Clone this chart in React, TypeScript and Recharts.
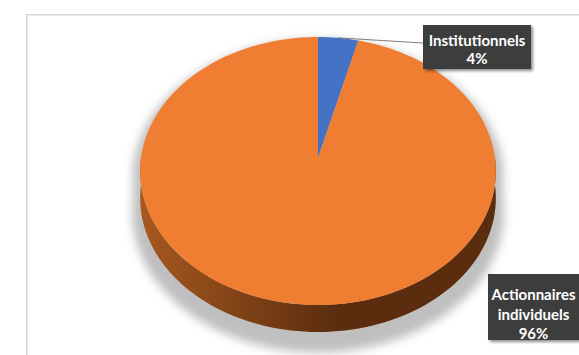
import { PieChart, Pie, Cell } from "recharts";

const categories = ["Institutionnels", "Actionnaires individuels"];
const labelLines = [["Institutionnels"], ["Actionnaires", "individuels"]];
const shares = [4, 96];
const sliceColors = ["#4472C4", "#EF7E32"];

const data = categories.map((name, i) => ({ name, value: shares[i] }));

const W = 579;
const H = 355;
const CX = 318;
const CY = 158;
const R = 177;
const SQUASH = 0.75; // vertical flattening of the tilted disc
const TILT = 0.097; // perspective: far side smaller than near side
const DEPTH = 27;

const wallStops = [
  ["#3a5da0", "#213a66"],
  ["#a6581f", "#5b2d0e"],
];
const labelBoxes = [
  { x: 423, y: 25, w: 108, h: 44, lineY: [15, 33] },
  { x: 488, y: 274, w: 91, h: 66, lineY: [20, 39.5, 59] },
];

function project(cx: number, cy: number, r: number, deg: number, drop = 0) {
  const t = (deg * Math.PI) / 180;
  const u = Math.cos(t);
  const v = Math.sin(t);
  const w = 1 + TILT * v;
  return [cx + (r * u) / w, cy - (r * SQUASH * v) / w + drop];
}

function arc(cx: number, cy: number, r: number, a0: number, a1: number, drop = 0) {
  const steps = Math.max(2, Math.ceil(Math.abs(a1 - a0) / 2));
  const pts: number[][] = [];
  for (let i = 0; i <= steps; i++) {
    pts.push(project(cx, cy, r, a0 + ((a1 - a0) * i) / steps, drop));
  }
  return pts;
}

const toPath = (pts: number[][]) =>
  "M" + pts.map((p) => `${p[0].toFixed(2)},${p[1].toFixed(2)}`).join("L") + "Z";

function Slice3D(props: any) {
  const { cx, cy, outerRadius, startAngle, endAngle, fill } = props;
  const idx = Math.max(0, sliceColors.indexOf(fill));
  const lo = Math.min(startAngle, endAngle);
  const hi = Math.max(startAngle, endAngle);
  const walls: number[][] = [];
  for (let k = -2; k <= 2; k++) {
    const a = Math.max(lo, -180 + 360 * k);
    const b = Math.min(hi, 360 * k);
    if (b > a) walls.push([a, b]);
  }
  const top = [[cx, cy], ...arc(cx, cy, outerRadius, startAngle, endAngle)];
  return (
    <g>
      <defs>
        <linearGradient id={`wall-${idx}`} gradientUnits="userSpaceOnUse" x1={cx - outerRadius} y1={0} x2={cx + outerRadius} y2={0}>
          <stop offset="0" stopColor={wallStops[idx][0]} />
          <stop offset="0.55" stopColor={wallStops[idx][1]} />
          <stop offset="1" stopColor={wallStops[idx][1]} />
        </linearGradient>
      </defs>
      {walls.map(([a, b], i) => (
        <path
          key={i}
          d={toPath([...arc(cx, cy, outerRadius, a, b), ...arc(cx, cy, outerRadius, b, a, DEPTH)])}
          fill={`url(#wall-${idx})`}
        />
      ))}
      <path d={toPath(top)} fill={fill} />
    </g>
  );
}

function renderLabel(props: any) {
  const { cx, cy, outerRadius, midAngle, percent, index } = props;
  const box = labelBoxes[index];
  const lines = [...labelLines[index], `${Math.round(percent * 100)}%`];
  const anchor = project(cx, cy, outerRadius, midAngle);
  return (
    <g>
      <defs>
        <filter id={`lblShadow-${index}`} x="-20%" y="-20%" width="150%" height="160%">
          <feDropShadow dx="2" dy="2" stdDeviation="1.5" floodColor="#000" floodOpacity="0.45" />
        </filter>
      </defs>
      {index === 0 && (
        <line x1={anchor[0]} y1={anchor[1]} x2={box.x} y2={box.y + 18} stroke="#7f7f7f" strokeWidth={1} />
      )}
      <rect x={box.x} y={box.y} width={box.w} height={box.h} fill="#3c3c3c" filter={`url(#lblShadow-${index})`} />
      {lines.map((t, i) => (
        <text
          key={i}
          x={box.x + box.w / 2}
          y={box.y + box.lineY[i]}
          textAnchor="middle"
          dominantBaseline="central"
          fill="#ffffff"
          fontFamily="Lato, 'Open Sans', sans-serif"
          fontWeight={700}
          fontSize={15}
        >
          {t}
        </text>
      ))}
    </g>
  );
}

const shadowPath = toPath([
  ...arc(CX, CY + 8, R + 8, 0, 180),
  ...arc(CX, CY + 8, R + 8, 180, 360, DEPTH + 6),
]);

export default function App() {
  return (
    <div style={{ position: "absolute", left: 0, top: 0, width: W, height: H, overflow: "hidden", background: "#fff" }}>
      <div
        style={{
          position: "absolute",
          left: 26,
          top: 14,
          width: 620,
          height: 400,
          border: "1px solid #d6d6d6",
          boxShadow: "inset 1px 1px 0 #ececec",
        }}
      />
      <svg width={W} height={H} style={{ position: "absolute", left: 0, top: 0 }}>
        <defs>
          <filter id="pieShadow" x="-20%" y="-20%" width="140%" height="140%">
            <feGaussianBlur stdDeviation="5" />
          </filter>
        </defs>
        <path d={shadowPath} fill="#b4b4b4" opacity={0.85} filter="url(#pieShadow)" />
      </svg>
      <div style={{ position: "absolute", left: 0, top: 0 }}>
        <PieChart width={W} height={H} margin={{ top: 0, right: 0, bottom: 0, left: 0 }}>
          <Pie
            data={data}
            dataKey="value"
            nameKey="name"
            cx={CX}
            cy={CY}
            outerRadius={R}
            startAngle={90}
            endAngle={-270}
            stroke="none"
            shape={Slice3D}
            label={renderLabel}
            labelLine={false}
            isAnimationActive={false}
          >
            {data.map((d, i) => (
              <Cell key={d.name} fill={sliceColors[i]} />
            ))}
          </Pie>
        </PieChart>
      </div>
    </div>
  );
}
